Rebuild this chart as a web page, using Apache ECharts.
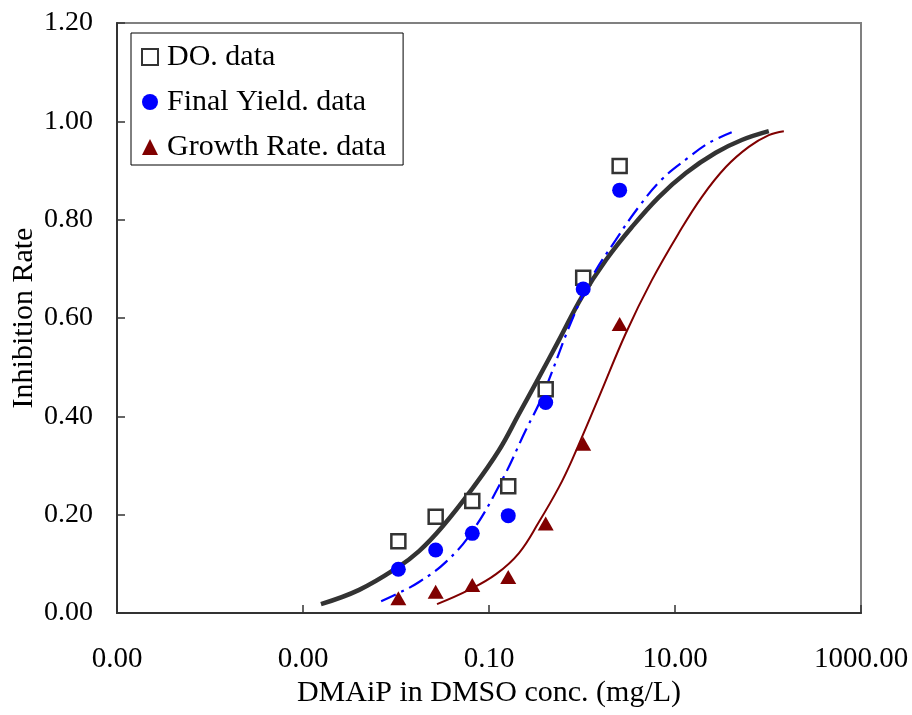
<!DOCTYPE html>
<html><head><meta charset="utf-8">
<script src="https://cdn.jsdelivr.net/npm/echarts@6/dist/echarts.min.js"></script>
<style>html,body{margin:0;padding:0;background:#fff}#c{width:912px;height:715px}</style>
</head><body><div id="c"></div>
<script>
// Concentrations (mg/L) of the test points
const conc = [0.0106, 0.0267, 0.0661, 0.161, 0.407, 1.03, 2.54];
// Measured inhibition rates
const doData = [0.146, 0.196, 0.228, 0.258, 0.455, 0.682, 0.909];
const yieldData = [0.089, 0.128, 0.162, 0.198, 0.428, 0.659, 0.860];
const rateData = [0.030, 0.043, 0.057, 0.073, 0.182, 0.344, 0.588];

// Fitted curves
const doFitX = [0.00156, 0.00402, 0.0103, 0.0177, 0.0313, 0.0656, 0.128, 0.210, 0.320, 0.565, 0.998, 1.81, 3.44, 6.70, 13.1, 27.4, 52.2, 102];
const doFitY = [0.018, 0.047, 0.092, 0.126, 0.175, 0.252, 0.331, 0.405, 0.468, 0.555, 0.643, 0.718, 0.785, 0.846, 0.895, 0.936, 0.962, 0.980];
const yieldFitX = [0.00692, 0.0108, 0.0177, 0.0345, 0.0656, 0.138, 0.249, 0.371, 0.780, 1.28, 2.31, 4.08, 7.21, 14.1, 23.1, 40.7];
const yieldFitY = [0.024, 0.041, 0.063, 0.104, 0.165, 0.270, 0.372, 0.439, 0.596, 0.683, 0.759, 0.826, 0.882, 0.927, 0.956, 0.978];
const rateFitX = [0.0276, 0.0610, 0.119, 0.210, 0.344, 0.565, 0.780, 1.52, 2.96, 5.64, 11.0, 19.4, 35.2, 62.1, 102, 148];
const rateFitY = [0.018, 0.047, 0.079, 0.122, 0.185, 0.256, 0.311, 0.439, 0.569, 0.677, 0.773, 0.846, 0.907, 0.948, 0.972, 0.980];

// Axis settings (log10 of concentration on the x axis)
const xLogMin = -5, xLogMax = 3, xLogStep = 2;
const yMin = 0, yMax = 1.2, yStep = 0.2;

const FONT = '"Liberation Serif", "Times New Roman", serif';
const toPts = (xs, ys) => xs.map((x, i) => [Math.log10(x), ys[i]]);

const chart = echarts.init(document.getElementById('c'), null, {renderer: 'canvas'});
chart.setOption({
  animation: false,
  backgroundColor: '#fff',
  grid: {left: 117, right: 51, top: 23, bottom: 102, containLabel: false, outerBoundsMode: 'none',
    show: true, borderColor: '#808080', borderWidth: 2, backgroundColor: 'transparent'},
  legend: {
    data: ['DO. data', 'Final Yield. data', 'Growth Rate. data'],
    orient: 'vertical', left: 131, top: 33,
    padding: [9, 17, 3, 10], itemGap: 15, itemWidth: 16, itemHeight: 16,
    borderColor: '#000', borderWidth: 1, backgroundColor: '#fff',
    textStyle: {fontFamily: FONT, fontSize: 30, color: '#000', padding: [0, 0, 0, 4]}
  },
  xAxis: {
    type: 'value', min: xLogMin, max: xLogMax, interval: xLogStep,
    name: 'DMAiP in DMSO conc. (mg/L)', nameLocation: 'middle', nameGap: 65, nameMoveOverlap: false,
    nameTextStyle: {fontFamily: FONT, fontSize: 30, color: '#000'},
    axisLine: {show: true, onZero: false, lineStyle: {color: '#333', width: 2}},
    axisTick: {show: true, inside: true, length: 8, lineStyle: {color: '#333', width: 1.5}},
    axisLabel: {margin: 32, fontFamily: FONT, fontSize: 29, color: '#000',
      formatter: v => Math.pow(10, v).toFixed(2)},
    splitLine: {show: false}
  },
  yAxis: {
    type: 'value', min: yMin, max: yMax, interval: yStep,
    name: 'Inhibition Rate', nameLocation: 'middle', nameGap: 78, nameMoveOverlap: false,
    nameTextStyle: {fontFamily: FONT, fontSize: 30, color: '#000'},
    axisLine: {show: true, onZero: false, lineStyle: {color: '#333', width: 2}},
    axisTick: {show: true, inside: true, length: 8, lineStyle: {color: '#333', width: 1.5}},
    axisLabel: {margin: 24, fontFamily: FONT, fontSize: 28, color: '#000',
      formatter: v => v.toFixed(2)},
    splitLine: {show: false}
  },
  series: [
    {name: 'DO. fit', type: 'line', data: toPts(doFitX, doFitY), smooth: 0.4, showSymbol: false, silent: true, z: 2,
      lineStyle: {color: '#333', width: 4.5}},
    {name: 'Final Yield. fit', type: 'line', data: toPts(yieldFitX, yieldFitY), smooth: 0.4, showSymbol: false, silent: true, z: 2,
      lineStyle: {color: '#0000ff', width: 2.2, type: [16, 6, 3, 6]}},
    {name: 'Growth Rate. fit', type: 'line', data: toPts(rateFitX, rateFitY), smooth: 0.4, showSymbol: false, silent: true, z: 2,
      lineStyle: {color: '#800000', width: 2}},
    {name: 'DO. data', type: 'scatter', data: toPts(conc, doData), symbol: 'rect', symbolSize: 14, z: 4,
      itemStyle: {color: '#fff', borderColor: '#333', borderWidth: 2.5, opacity: 1}},
    {name: 'Final Yield. data', type: 'scatter', data: toPts(conc, yieldData), symbol: 'circle', symbolSize: 15, z: 4,
      itemStyle: {color: '#0000ff', opacity: 1}},
    {name: 'Growth Rate. data', type: 'scatter', data: toPts(conc, rateData), symbol: 'triangle', symbolSize: [16, 14], z: 4,
      itemStyle: {color: '#800000', opacity: 1}}
  ]
});
</script></body></html>
